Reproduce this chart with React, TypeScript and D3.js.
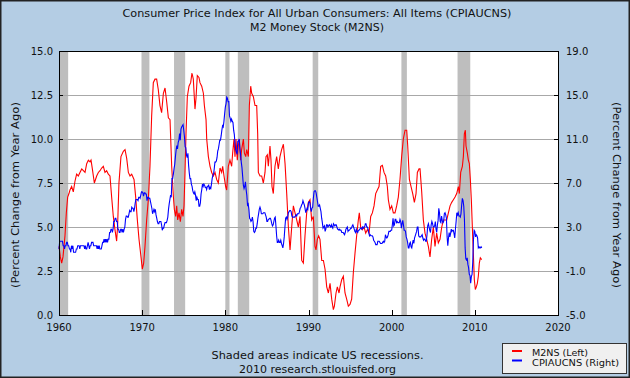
import React from 'react';
import * as d3 from 'd3';

const W = 630;
const H = 378;
const PL = 59, PR = 558, PT = 51, PB = 315;

const titleLines = [
  'Consumer Price Index for All Urban Consumers: All Items (CPIAUCNS)',
  'M2 Money Stock (M2NS)',
];
const leftTicks = [0, 2.5, 5, 7.5, 10, 12.5, 15];
const rightTicks = [-5, -1, 3, 7, 11, 15, 19];
const yearTicks = [1960, 1970, 1980, 1990, 2000, 2010, 2020];
const axisLabel = '(Percent Change from Year Ago)';
const legendLabels = ['M2NS (Left)', 'CPIAUCNS (Right)'];
const noteLines = ['Shaded areas indicate US recessions.', '2010 research.stlouisfed.org'];

// recession periods (decimal years)
const recStart = [1960.0, 1969.92, 1973.83, 1980.0, 1981.5, 1990.5, 2001.17, 2007.92];
const recEnd = [1961.1, 1970.87, 1975.17, 1980.5, 1982.87, 1991.17, 2001.83, 2009.45];

// M2NS, % change from year ago (left axis)
const m2Years = [
  1960.00, 1960.16, 1960.32, 1960.48, 1960.72, 1960.88, 1961.04, 1961.20, 1961.32, 1961.52, 1961.72, 1961.92,
  1962.12, 1962.32, 1962.52, 1962.73, 1962.93, 1963.13, 1963.33, 1963.53, 1963.73, 1963.85, 1964.01, 1964.25,
  1964.53, 1964.73, 1964.93, 1965.13, 1965.33, 1965.53, 1965.73, 1965.93, 1966.13, 1966.33, 1966.53, 1966.73,
  1966.93, 1967.05, 1967.21, 1967.45, 1967.74, 1967.94, 1968.14, 1968.34, 1968.54, 1968.74, 1969.02, 1969.22,
  1969.42, 1969.62, 1969.86, 1970.02, 1970.18, 1970.34, 1970.54, 1970.74, 1970.94, 1971.14, 1971.34, 1971.54,
  1971.74, 1971.94, 1972.14, 1972.34, 1972.55, 1972.75, 1972.95, 1973.15, 1973.35, 1973.55, 1973.75, 1973.87,
  1974.03, 1974.15, 1974.27, 1974.43, 1974.59, 1974.75, 1974.91, 1975.03, 1975.15, 1975.27, 1975.43, 1975.63,
  1975.83, 1975.99, 1976.15, 1976.35, 1976.47, 1976.63, 1976.83, 1976.95, 1977.16, 1977.36, 1977.48, 1977.68,
  1977.76, 1977.96, 1978.16, 1978.36, 1978.56, 1978.76, 1978.96, 1979.16, 1979.36, 1979.56, 1979.68, 1979.84,
  1980.04, 1980.16, 1980.36, 1980.56, 1980.76, 1980.88, 1981.04, 1981.16, 1981.28, 1981.44, 1981.56, 1981.68,
  1981.84, 1981.96, 1982.17, 1982.29, 1982.45, 1982.57, 1982.77, 1982.89, 1983.05, 1983.17, 1983.37, 1983.57,
  1983.77, 1983.89, 1983.97, 1984.17, 1984.37, 1984.57, 1984.77, 1984.89, 1985.05, 1985.17, 1985.37, 1985.49,
  1985.61, 1985.77, 1985.97, 1986.17, 1986.37, 1986.57, 1986.77, 1986.98, 1987.18, 1987.38, 1987.58, 1987.78,
  1987.98, 1988.18, 1988.38, 1988.58, 1988.78, 1988.98, 1989.18, 1989.38, 1989.58, 1989.78, 1989.98, 1990.18,
  1990.38, 1990.58, 1990.78, 1990.90, 1991.06, 1991.22, 1991.38, 1991.59, 1991.79, 1991.99, 1992.19, 1992.39,
  1992.59, 1992.79, 1992.99, 1993.11, 1993.31, 1993.47, 1993.67, 1993.79, 1993.99, 1994.19, 1994.39, 1994.59,
  1994.79, 1994.99, 1995.19, 1995.39, 1995.59, 1995.79, 1995.99, 1996.11, 1996.27, 1996.47, 1996.68, 1996.88,
  1997.08, 1997.28, 1997.48, 1997.68, 1997.88, 1998.08, 1998.28, 1998.48, 1998.68, 1998.88, 1999.08, 1999.28,
  1999.48, 1999.60, 1999.80, 2000.00, 2000.20, 2000.40, 2000.60, 2000.80, 2001.00, 2001.20, 2001.40, 2001.61,
  2001.81, 2001.93, 2002.13, 2002.33, 2002.53, 2002.73, 2002.93, 2003.09, 2003.29, 2003.41, 2003.61, 2003.81,
  2004.01, 2004.21, 2004.41, 2004.61, 2004.81, 2005.01, 2005.21, 2005.41, 2005.61, 2005.81, 2006.02, 2006.22,
  2006.42, 2006.62, 2006.82, 2007.02, 2007.22, 2007.42, 2007.62, 2007.82, 2008.02, 2008.14, 2008.30, 2008.50,
  2008.62, 2008.74, 2008.86, 2008.94, 2009.10, 2009.22, 2009.34, 2009.46, 2009.58, 2009.70, 2009.82, 2009.94,
  2010.06, 2010.18, 2010.30, 2010.42, 2010.54, 2010.66, 2010.82,
];
const m2Values = [
  3.9, 3.3, 2.95, 3.3, 4.5, 5.8, 6.7, 6.9, 7.1, 7.3, 7.0, 7.6,
  8.0, 7.9, 8.1, 8.3, 8.2, 8.1, 8.6, 8.8, 8.7, 8.8, 8.3, 7.5,
  7.9, 8.1, 8.2, 8.35, 8.45, 8.1, 8.2, 8.0, 7.9, 6.7, 5.6, 4.85,
  4.2, 5.1, 7.5, 9.0, 9.3, 9.4, 8.9, 8.1, 7.9, 8.0, 7.7, 6.7,
  5.4, 4.3, 3.3, 2.6, 2.95, 3.9, 5.4, 6.55, 8.45, 11.3, 13.2, 13.4,
  13.4, 12.8, 11.9, 11.5, 12.6, 12.9, 12.1, 11.2, 11.1, 8.45, 6.75, 6.0,
  5.6, 6.2, 5.4, 5.8, 5.3, 6.0, 5.6, 6.2, 8.1, 10.3, 12.4, 13.0,
  13.2, 13.75, 13.4, 11.7, 12.3, 13.6, 13.5, 13.2, 13.0, 12.6, 11.9, 11.1,
  10.0, 9.0, 8.45, 8.1, 7.9, 8.1, 7.7, 7.5, 8.35, 8.1, 8.45, 7.9,
  7.3, 7.1, 8.45, 8.8, 8.45, 9.2, 10.0, 9.0, 10.0, 8.8, 9.6, 10.0,
  8.8, 9.4, 10.0, 9.2, 9.0, 9.4, 9.0, 11.9, 13.0, 12.6, 12.4, 11.9,
  11.9, 10.3, 8.1, 7.9, 7.9, 7.5, 8.1, 9.0, 9.1, 8.45, 9.6, 8.8,
  7.3, 6.9, 8.45, 9.0, 8.3, 9.0, 9.4, 9.7, 8.6, 6.9, 5.0, 3.7,
  5.0, 6.2, 5.8, 5.4, 5.0, 5.6, 3.1, 2.95, 4.5, 5.8, 6.4, 6.55,
  5.4, 5.6, 3.9, 3.7, 4.3, 4.5, 4.3, 3.1, 3.1, 2.6, 1.6, 1.25,
  1.8, 0.9, 0.3, 0.5, 1.25, 1.6, 1.25, 1.6, 2.0, 2.2, 1.25, 0.9,
  0.5, 0.6, 0.9, 2.4, 3.5, 4.5, 5.4, 5.8, 5.0, 4.85, 5.0, 4.65,
  4.85, 4.65, 5.6, 5.8, 6.2, 6.9, 7.1, 7.3, 8.45, 8.5, 8.1, 7.9,
  7.3, 6.55, 6.0, 6.2, 5.8, 5.8, 6.2, 6.7, 7.7, 9.0, 10.0, 10.5,
  10.5, 9.6, 7.7, 7.3, 6.9, 6.4, 6.9, 8.1, 8.3, 8.3, 7.0, 5.4,
  4.65, 4.3, 3.9, 3.3, 4.3, 5.0, 3.9, 4.65, 4.1, 4.3, 5.0, 5.4,
  5.4, 5.4, 5.8, 6.2, 6.4, 6.55, 6.7, 6.9, 7.3, 6.9, 8.1, 8.45,
  9.0, 10.3, 10.5, 9.6, 9.2, 8.8, 8.6, 7.7, 6.55, 5.0, 3.5, 2.0,
  1.45, 1.6, 1.8, 2.2, 2.95, 3.25, 3.15,
];

// CPIAUCNS, % change from year ago (right axis), monthly from Jan 1960
const cpiStartYear = 1960;
const cpiValues = [
  1.0, 1.7, 1.7, 1.7, 1.7, 1.7, 1.3, 1.3, 1.0, 1.3, 1.3, 1.6,
  1.6, 1.3, 1.3, 1.0, 1.0, 0.7, 1.3, 1.0, 1.3, 0.7, 0.7, 0.7,
  0.7, 1.0, 1.0, 1.3, 1.3, 1.3, 1.0, 1.3, 1.3, 1.3, 1.3, 1.3,
  1.3, 1.0, 1.3, 1.0, 1.0, 1.3, 1.6, 1.3, 1.0, 1.3, 1.3, 1.6,
  1.6, 1.6, 1.3, 1.3, 1.3, 1.3, 1.3, 1.0, 1.3, 1.0, 1.3, 1.0,
  1.0, 1.0, 1.3, 1.6, 1.6, 1.9, 1.6, 1.9, 1.6, 1.9, 1.6, 1.9,
  1.9, 2.5, 2.5, 2.8, 2.8, 2.5, 2.8, 3.5, 3.5, 3.8, 3.8, 3.5,
  3.5, 2.8, 2.8, 2.5, 2.5, 2.8, 2.8, 2.5, 2.8, 2.5, 2.8, 3.0,
  3.7, 4.0, 4.0, 3.9, 3.9, 4.2, 4.5, 4.4, 4.4, 4.8, 4.7, 4.7,
  4.4, 4.7, 5.2, 5.5, 5.5, 5.5, 5.4, 5.7, 5.7, 5.6, 5.9, 6.2,
  6.2, 6.1, 5.8, 6.1, 6.1, 6.0, 6.0, 5.4, 5.7, 5.7, 5.6, 5.6,
  5.3, 5.0, 4.7, 4.2, 4.4, 4.6, 4.4, 4.6, 4.1, 3.8, 3.5, 3.3,
  3.3, 3.5, 3.5, 3.5, 3.2, 2.7, 2.9, 2.9, 3.2, 3.4, 3.4, 3.4,
  3.6, 3.9, 4.6, 5.1, 5.5, 5.9, 5.7, 7.4, 7.4, 7.8, 8.3, 8.7,
  9.4, 10.0, 10.4, 10.1, 10.7, 10.9, 11.5, 10.9, 11.9, 12.1, 12.2, 12.3,
  11.8, 11.2, 10.3, 10.2, 9.5, 9.3, 9.7, 8.6, 7.9, 7.4, 7.4, 6.9,
  6.7, 6.3, 6.1, 6.0, 6.2, 5.9, 5.4, 5.7, 5.5, 5.5, 4.9, 4.9,
  5.2, 6.0, 6.4, 6.9, 6.7, 6.9, 6.8, 6.6, 6.6, 6.4, 6.7, 6.7,
  6.8, 6.4, 6.6, 6.5, 6.9, 7.4, 7.7, 7.8, 8.3, 8.9, 8.9, 9.0,
  9.3, 9.9, 10.1, 10.5, 10.9, 10.9, 11.3, 11.8, 12.2, 12.1, 12.6, 13.3,
  13.9, 14.2, 14.8, 14.7, 14.4, 14.4, 13.1, 12.9, 12.6, 12.8, 12.6, 12.5,
  11.8, 11.4, 10.5, 10.0, 9.8, 9.6, 10.8, 10.8, 11.0, 10.1, 9.6, 8.9,
  8.4, 7.6, 6.8, 6.5, 6.7, 7.1, 6.4, 5.9, 5.0, 5.1, 4.6, 3.8,
  3.7, 3.5, 3.6, 3.9, 3.5, 2.6, 2.5, 2.6, 2.9, 2.9, 3.3, 3.8,
  4.2, 4.6, 4.8, 4.6, 4.2, 4.2, 4.2, 4.3, 4.3, 4.3, 4.1, 3.9,
  3.5, 3.5, 3.7, 3.7, 3.8, 3.8, 3.6, 3.3, 3.1, 3.2, 3.5, 3.8,
  3.9, 3.1, 2.2, 1.6, 1.6, 1.8, 1.6, 1.6, 1.8, 1.5, 1.3, 1.1,
  1.5, 2.1, 3.0, 3.8, 3.9, 3.7, 3.9, 4.3, 4.4, 4.5, 4.5, 4.4,
  4.0, 3.9, 3.9, 3.9, 3.9, 4.0, 4.1, 4.0, 4.2, 4.2, 4.2, 4.4,
  4.7, 4.8, 5.0, 5.1, 5.4, 5.2, 5.0, 4.7, 4.3, 4.5, 4.7, 4.6,
  5.2, 5.3, 5.2, 4.7, 4.4, 4.7, 4.8, 5.6, 6.2, 6.3, 6.3, 6.1,
  5.7, 5.3, 4.9, 4.9, 5.0, 4.7, 4.4, 3.8, 3.4, 2.9, 3.0, 3.1,
  2.6, 2.8, 3.2, 3.2, 3.0, 3.1, 3.2, 3.1, 3.0, 3.2, 3.0, 2.9,
  3.3, 3.2, 3.1, 3.2, 3.2, 3.0, 2.8, 2.8, 2.7, 2.8, 2.7, 2.7,
  2.5, 2.5, 2.5, 2.4, 2.3, 2.5, 2.8, 2.9, 3.0, 2.6, 2.7, 2.7,
  2.8, 2.9, 2.9, 3.1, 3.2, 3.0, 2.8, 2.6, 2.5, 2.8, 2.6, 2.5,
  2.7, 2.7, 2.8, 2.9, 2.9, 2.8, 3.0, 2.9, 3.0, 3.0, 3.3, 3.3,
  3.0, 3.0, 2.8, 2.5, 2.2, 2.3, 2.2, 2.2, 2.2, 2.1, 1.8, 1.7,
  1.6, 1.4, 1.4, 1.4, 1.7, 1.7, 1.7, 1.6, 1.5, 1.5, 1.5, 1.6,
  1.7, 1.6, 1.7, 2.3, 2.1, 2.0, 2.1, 2.3, 2.6, 2.6, 2.6, 2.7,
  2.7, 3.2, 3.8, 3.1, 3.2, 3.7, 3.7, 3.4, 3.5, 3.4, 3.4, 3.4,
  3.7, 3.5, 2.9, 3.3, 3.6, 3.2, 2.7, 2.7, 2.6, 2.1, 1.9, 1.6,
  1.1, 1.1, 1.5, 1.6, 1.2, 1.1, 1.5, 1.8, 1.5, 2.0, 2.2, 2.4,
  2.6, 3.0, 3.0, 2.2, 2.1, 2.1, 2.1, 2.2, 2.3, 2.0, 1.8, 1.9,
  1.9, 1.7, 1.7, 2.3, 3.1, 3.3, 3.0, 2.7, 2.5, 3.2, 3.5, 3.3,
  3.0, 3.0, 3.1, 3.5, 2.8, 2.5, 3.2, 3.6, 4.7, 4.3, 3.5, 3.4,
  4.0, 3.6, 3.4, 3.5, 4.2, 4.3, 4.1, 3.8, 2.1, 1.3, 2.0, 2.5,
  2.1, 2.4, 2.8, 2.6, 2.7, 2.7, 2.4, 2.0, 2.8, 3.5, 4.3, 4.1,
  4.3, 4.0, 4.0, 3.9, 4.2, 5.0, 5.6, 5.4, 4.9, 3.7, 1.1, 0.1,
  0.0, 0.2, -0.4, -0.7, -1.3, -1.4, -2.1, -1.5, -1.3, -0.2, 1.8, 2.7,
  2.6, 2.1, 2.3, 2.2, 2.0, 1.1, 1.2, 1.1, 1.1, 1.2, 1.1,
];

const FONT = 'DejaVu Sans, Verdana, sans-serif';

export default function App() {
  const x = d3.scaleLinear().domain([1960, 2020]).range([PL, PR]);
  const yL = d3.scaleLinear().domain([0, 15]).range([PB, PT]);
  const yR = d3.scaleLinear().domain([-5, 19]).range([PB, PT]);

  const m2Line = d3
    .line<number>()
    .x((_, i) => x(m2Years[i]))
    .y((d) => yL(d));
  const cpiLine = d3
    .line<number>()
    .x((_, i) => x(cpiStartYear + i / 12))
    .y((d) => yR(d));

  const titleLen = [389, 134];
  const noteLen = [212, 157];
  const legendLen = [56, 87];

  return (
    <svg width={W} height={H} style={{ position: 'absolute', left: 0, top: 0, display: 'block' }}>
      <rect x={0} y={0} width={W} height={H} fill="#b4cde4" />
      <rect x={0.5} y={0.5} width={W - 1} height={H - 1} fill="none" stroke="#222" strokeWidth={2} />
      {titleLines.map((t, i) => (
        <text
          key={t}
          x={317}
          y={17 + i * 14}
          textAnchor="middle"
          fontFamily={FONT}
          fontSize={11}
          textLength={titleLen[i]}
          lengthAdjust="spacingAndGlyphs"
          fill="#111"
        >
          {t}
        </text>
      ))}
      <rect x={PL} y={PT} width={PR - PL} height={PB - PT} fill="#ffffff" />
      {recStart.map((s, i) => (
        <rect key={s} x={x(s)} y={PT} width={x(recEnd[i]) - x(s)} height={PB - PT} fill="#bebebe" />
      ))}
      {leftTicks.slice(1, -1).map((t) => (
        <line key={t} x1={PL} x2={PR} y1={Math.round(yL(t)) + 0.5} y2={Math.round(yL(t)) + 0.5} stroke="#a8a8a8" strokeWidth={1} />
      ))}
      <path d={m2Line(m2Values) || ''} fill="none" stroke="#ff0000" strokeWidth={1.1} />
      <path d={cpiLine(cpiValues) || ''} fill="none" stroke="#0000ff" strokeWidth={1.1} />
      <rect x={PL + 0.5} y={PT + 0.5} width={PR - PL} height={PB - PT} fill="none" stroke="#000" strokeWidth={1} />
      {leftTicks.map((t) => (
        <g key={'l' + t}>
          <line x1={PL} x2={PL + 4} y1={Math.round(yL(t)) + 0.5} y2={Math.round(yL(t)) + 0.5} stroke="#000" />
          <text x={53} y={yL(t) + 4} textAnchor="end" fontFamily={FONT} fontSize={10} fill="#111">
            {t.toFixed(1)}
          </text>
        </g>
      ))}
      {rightTicks.map((t) => (
        <g key={'r' + t}>
          <line x1={PR - 4} x2={PR} y1={Math.round(yR(t)) + 0.5} y2={Math.round(yR(t)) + 0.5} stroke="#000" />
          <text x={566} y={yR(t) + 4} textAnchor="start" fontFamily={FONT} fontSize={10} fill="#111">
            {t.toFixed(1)}
          </text>
        </g>
      ))}
      {yearTicks.map((t) => (
        <g key={'x' + t}>
          <line x1={Math.round(x(t)) + 0.5} x2={Math.round(x(t)) + 0.5} y1={PB - 5} y2={PB} stroke="#000" />
          <text x={x(t)} y={331} textAnchor="middle" fontFamily={FONT} fontSize={10} fill="#111">
            {t}
          </text>
        </g>
      ))}
      <text
        transform={`translate(15,195) rotate(-90)`}
        textAnchor="middle"
        dominantBaseline="central"
        fontFamily={FONT}
        fontSize={10.5}
        textLength={186}
        lengthAdjust="spacingAndGlyphs"
        fill="#111"
      >
        {axisLabel}
      </text>
      <text
        transform={`translate(617,195) rotate(90)`}
        textAnchor="middle"
        dominantBaseline="central"
        fontFamily={FONT}
        fontSize={10.5}
        textLength={186}
        lengthAdjust="spacingAndGlyphs"
        fill="#111"
      >
        {axisLabel}
      </text>
      {noteLines.map((t, i) => (
        <text
          key={t}
          x={317.5}
          y={359 + i * 13.5}
          textAnchor="middle"
          fontFamily={FONT}
          fontSize={10.5}
          textLength={noteLen[i]}
          lengthAdjust="spacingAndGlyphs"
          fill="#111"
        >
          {t}
        </text>
      ))}
      <rect x={502.5} y={343.5} width={124} height={30} fill="#f0f0f0" stroke="#333" strokeWidth={1} />
      <line x1={512} x2={522} y1={351} y2={351} stroke="#ff0000" strokeWidth={2} />
      <line x1={512} x2={522} y1={360.5} y2={360.5} stroke="#0000ff" strokeWidth={2} />
      {legendLabels.map((t, i) => (
        <text
          key={t}
          x={532}
          y={356 + i * 10}
          fontFamily={FONT}
          fontSize={9}
          textLength={legendLen[i]}
          lengthAdjust="spacingAndGlyphs"
          fill="#111"
        >
          {t}
        </text>
      ))}
    </svg>
  );
}
